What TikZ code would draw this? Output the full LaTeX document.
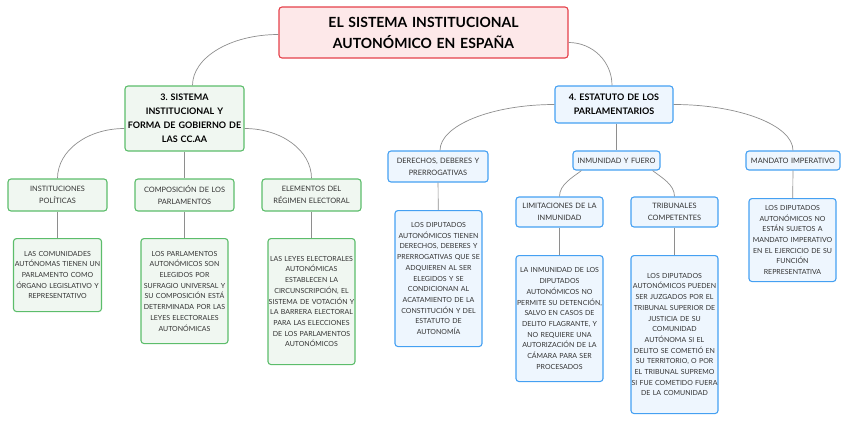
\documentclass[tikz,border=0pt]{standalone}
\usepackage{fontspec}
\setmainfont{Lato}
\usepackage{tikz}
\frenchspacing

\definecolor{rojo}{HTML}{E5404A}
\definecolor{rosa}{HTML}{FDE8E9}
\definecolor{verde}{HTML}{5CBD6B}
\definecolor{verdeclaro}{HTML}{F0F7F1}
\definecolor{azul}{HTML}{45A0F2}
\definecolor{azulclaro}{HTML}{EEF6FE}
\definecolor{texto}{HTML}{333333}
\definecolor{linea}{HTML}{8E8E8E}

\begin{document}
\begin{tikzpicture}[x=1pt, y=-1pt,
      caja/.style ={rectangle, rounded corners=3pt, line width=1.1pt, inner xsep=0pt, inner ysep=0pt, align=center},
      raiz/.style ={caja, draw=rojo, fill=rosa, font=\fontsize{14}{21}\selectfont\bfseries},
      temaverde/.style ={caja, draw=verde, fill=verdeclaro, font=\fontsize{9}{14}\selectfont\bfseries},
      temaazul/.style ={caja, draw=azul, fill=azulclaro, font=\fontsize{9}{14}\selectfont\bfseries},
      ramaverde/.style ={caja, draw=verde, fill=verdeclaro, text=texto, font=\fontsize{7.4}{11.7}\selectfont},
      ramaazul/.style ={caja, draw=azul, fill=azulclaro, text=texto, font=\fontsize{7.4}{11.7}\selectfont},
      hojaverde/.style ={caja, anchor=north, draw=verde, fill=verdeclaro, text=texto, font=\fontsize{7}{10.7}\selectfont},
      hojaazul/.style ={caja, anchor=north, draw=azul, fill=azulclaro, text=texto, font=\fontsize{7}{10.7}\selectfont},
      enlace/.style ={draw=linea, line width=0.7pt}]

   \useasboundingbox (0,0) rectangle (848,421);

   \node[raiz, text width=289pt, minimum height=51pt] (R) at (423.5,32.5) {EL SISTEMA INSTITUCIONAL\\AUTONÓMICO EN ESPAÑA};

   % 3. sistema institucional
   \node[temaverde, text width=119pt, minimum height=65pt] (T3) at (184.5,118.5) {3. SISTEMA\\INSTITUCIONAL Y\\FORMA DE GOBIERNO DE\\LAS CC.AA};

   \node[ramaverde, text width=99pt, minimum height=32pt] (A1) at (57.5,195) {INSTITUCIONES\\POLÍTICAS};
   \node[ramaverde, text width=99pt, minimum height=32pt] (A2) at (184.5,195) {COMPOSICIÓN DE LOS\\PARLAMENTOS};
   \node[ramaverde, text width=99pt, minimum height=32pt] (A3) at (311.5,195) {ELEMENTOS DEL\\RÉGIMEN ELECTORAL};

   \node[hojaverde, text width=88pt, minimum height=73pt] (B1) at (57.5,238) {LAS COMUNIDADES\\AUTÓNOMAS TIENEN UN\\PARLAMENTO COMO\\ÓRGANO LEGISLATIVO Y\\REPRESENTATIVO};
   \node[hojaverde, text width=87pt, minimum height=105pt] (B2) at (184.5,238) {LOS PARLAMENTOS\\AUTONÓMICOS SON\\ELEGIDOS POR\\SUFRAGIO UNIVERSAL Y\\SU COMPOSICIÓN ESTÁ\\DETERMINADA POR LAS\\LEYES ELECTORALES\\AUTONÓMICAS};
   \node[hojaverde, text width=87pt, minimum height=126pt] (B3) at (311.5,238) {LAS LEYES ELECTORALES\\AUTONÓMICAS\\ESTABLECEN LA\\CIRCUNSCRIPCIÓN, EL\\SISTEMA DE VOTACIÓN Y\\LA BARRERA ELECTORAL\\PARA LAS ELECCIONES\\DE LOS PARLAMENTOS\\AUTONÓMICOS};

   % 4. estatuto de los parlamentarios
   \node[temaazul, text width=118pt, minimum height=37pt] (T4) at (614,104.5) {4. ESTATUTO DE LOS\\PARLAMENTARIOS};

   \node[ramaazul, text width=100pt, minimum height=31pt] (C1) at (438,166.5) {DERECHOS, DEBERES Y\\PRERROGATIVAS};
   \node[ramaazul, text width=87pt, minimum height=19pt] (C2) at (616.5,160.5) {INMUNIDAD Y FUERO};
   \node[ramaazul, text width=94pt, minimum height=19pt] (C3) at (793,160.5) {MANDATO IMPERATIVO};

   \node[ramaazul, text width=87pt, minimum height=30pt] (D1) at (559.5,212) {LIMITACIONES DE LA\\INMUNIDAD};
   \node[ramaazul, text width=87pt, minimum height=30pt] (D2) at (674.5,212) {TRIBUNALES\\COMPETENTES};

   \node[hojaazul, text width=87pt, minimum height=136pt] (E1) at (438.5,210) {LOS DIPUTADOS\\AUTONÓMICOS TIENEN\\DERECHOS, DEBERES Y\\PRERROGATIVAS QUE SE\\ADQUIEREN AL SER\\ELEGIDOS Y SE\\CONDICIONAN AL\\ACATAMIENTO DE LA\\CONSTITUCIÓN Y DEL\\ESTATUTO DE\\AUTONOMÍA};
   \node[hojaazul, text width=87pt, minimum height=126pt] (E2) at (559.5,255) {LA INMUNIDAD DE LOS\\DIPUTADOS\\AUTONÓMICOS NO\\PERMITE SU DETENCIÓN,\\SALVO EN CASOS DE\\DELITO FLAGRANTE, Y\\NO REQUIERE UNA\\AUTORIZACIÓN DE LA\\CÁMARA PARA SER\\PROCESADOS};
   \node[hojaazul, text width=87pt, minimum height=158pt] (E3) at (674.5,255) {LOS DIPUTADOS\\AUTONÓMICOS PUEDEN\\SER JUZGADOS POR EL\\TRIBUNAL SUPERIOR DE\\JUSTICIA DE SU\\COMUNIDAD\\AUTÓNOMA SI EL\\DELITO SE COMETIÓ EN\\SU TERRITORIO, O POR\\EL TRIBUNAL SUPREMO\\SI FUE COMETIDO FUERA\\DE LA COMUNIDAD};
   \node[hojaazul, text width=87pt, minimum height=83pt] (E4) at (792.5,198) {LOS DIPUTADOS\\AUTONÓMICOS NO\\ESTÁN SUJETOS A\\MANDATO IMPERATIVO\\EN EL EJERCICIO DE SU\\FUNCIÓN\\REPRESENTATIVA};

   \draw[enlace] ([yshift=-2pt]R.west) .. controls +(-48,0) and +(0,-28) .. ([xshift=8pt]T3.north);
   \draw[enlace] ([yshift=-10pt]R.east) .. controls +(24,0) and +(0,-24) .. ([xshift=-2pt]T4.north);

   \draw[enlace] ([yshift=-10pt]T3.west) .. controls +(-37,0) and +(0,-28) .. (A1.north);
   \draw[enlace] (T3.south) to (A2.north);
   \draw[enlace] ([yshift=-10pt]T3.east) .. controls +(37,0) and +(0,-28) .. (A3.north);

   \draw[enlace] (A1) to (B1);
   \draw[enlace] (A2) to (B2);
   \draw[enlace] (A3) to (B3);

   \draw[enlace] (T4.west) .. controls +(-63,0) and +(0,-25) .. ([xshift=2pt]C1.north);
   \draw[enlace] (T4.south -| C2.north) to (C2.north);
   \draw[enlace] (T4.east) .. controls +(66,0) and +(0,-25) .. (C3.north);

   \draw[enlace] ([xshift=9pt]C2.south west) .. controls +(-9,7) and +(0,-12) .. (D1.north);
   \draw[enlace] ([xshift=-8pt]C2.south east) .. controls +(9,7) and +(0,-12) .. (D2.north);

   \draw[enlace] (C1) to (E1);
   \draw[enlace] (D1) to (E2);
   \draw[enlace] (D2) to (E3);
   \draw[enlace] (C3) to (E4);
 \end{tikzpicture}
\end{document}
